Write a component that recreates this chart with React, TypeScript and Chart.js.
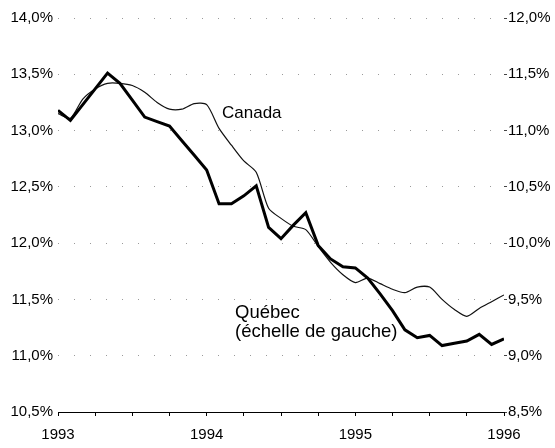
import React, { useEffect, useRef } from "react";
import { Chart, registerables } from "chart.js";

Chart.register(...registerables);

// Monthly data, Jan 1993 – Jan 1996
const QUEBEC = [
  13.18, 13.09, 13.23, 13.37, 13.51, 13.42, 13.27, 13.12, 13.08, 13.04, 12.91, 12.78,
  12.65, 12.35, 12.35, 12.42, 12.51, 12.14, 12.04, 12.16, 12.27, 11.98, 11.86, 11.79,
  11.78, 11.69, 11.55, 11.4, 11.23, 11.16, 11.18, 11.09, 11.11, 11.13, 11.19, 11.1,
  11.15,
];
const CANADA = [
  11.15, 11.11, 11.28, 11.37, 11.42, 11.42, 11.4, 11.34, 11.25, 11.19, 11.19, 11.24,
  11.23, 11.02, 10.87, 10.73, 10.63, 10.31, 10.22, 10.15, 10.12, 9.97, 9.83, 9.72,
  9.65, 9.69, 9.64, 9.59, 9.56, 9.61, 9.61, 9.5, 9.41, 9.35, 9.42, 9.48, 9.54,
];
const YEAR_LABELS = ["1993", "1994", "1995", "1996"];
const LEFT_RANGE = [10.5, 14.0];
const RIGHT_RANGE = [8.5, 12.0];
const TICK_STEP = 0.5;

// Text annotations (data coordinates: month index, left-axis value)
const NOTE_CANADA = { text: ["Canada"], x: 13.24, y: 13.115, size: 17 };
const NOTE_QUEBEC = { text: ["Québec", "(échelle de gauche)"], x: 14.29, y: 11.335, size: 18.5, lineGap: 0.165 };

const FONT = "'Liberation Sans', Arial, Helvetica, sans-serif";

const fmt = (v: number) => v.toFixed(1).replace(".", ",") + "%";

const notesPlugin = {
  id: "notes",
  afterDatasetsDraw(chart: any) {
    const { ctx, scales } = chart;
    const xs = scales.x;
    const ys = scales.y;
    ctx.save();
    ctx.fillStyle = "#000";
    ctx.textBaseline = "alphabetic";
    ctx.textAlign = "left";
    ctx.font = `${NOTE_CANADA.size}px ${FONT}`;
    ctx.fillText(NOTE_CANADA.text[0], xs.getPixelForValue(NOTE_CANADA.x), ys.getPixelForValue(NOTE_CANADA.y));
    ctx.font = `${NOTE_QUEBEC.size}px ${FONT}`;
    NOTE_QUEBEC.text.forEach((t, i) => {
      ctx.fillText(
        t,
        xs.getPixelForValue(NOTE_QUEBEC.x),
        ys.getPixelForValue(NOTE_QUEBEC.y - i * NOTE_QUEBEC.lineGap)
      );
    });
    ctx.restore();
  },
};

export default function App() {
  const ref = useRef<HTMLCanvasElement>(null);

  useEffect(() => {
    document.body.style.margin = "0";
    const canvas = ref.current;
    if (!canvas) return;
    const chart = new Chart(canvas, {
      type: "line",
      data: {
        datasets: [
          {
            label: "Québec",
            data: QUEBEC.map((v, i) => ({ x: i, y: v })),
            borderColor: "#000",
            borderWidth: 3,
            pointRadius: 0,
            tension: 0,
            yAxisID: "y",
          },
          {
            label: "Canada",
            data: CANADA.map((v, i) => ({ x: i, y: v })),
            borderColor: "#111",
            borderWidth: 1.2,
            pointRadius: 0,
            tension: 0.25,
            yAxisID: "y1",
          },
        ],
      },
      options: {
        responsive: false,
        animation: false,
        layout: { padding: { top: 18, right: 0, bottom: 0, left: 0 } },
        plugins: { legend: { display: false }, tooltip: { enabled: false } },
        scales: {
          x: {
            type: "linear",
            min: 0,
            max: (YEAR_LABELS.length - 1) * 12,
            afterFit: (s: any) => {
              s.height = 36;
            },
            afterBuildTicks: (s: any) => {
              const t = [];
              for (let v = 0; v <= (YEAR_LABELS.length - 1) * 12; v += 3) t.push({ value: v });
              s.ticks = t;
            },
            ticks: {
              autoSkip: false,
              maxRotation: 0,
              padding: 10,
              color: "#000",
              font: { family: FONT, size: 15 },
              callback: (v: any) => (v % 12 === 0 ? YEAR_LABELS[v / 12] : ""),
            },
            grid: {
              drawOnChartArea: false,
              drawTicks: true,
              tickLength: 4,
              color: "#000",
            },
            border: { display: true, color: "#000", width: 1 },
          },
          y: {
            position: "left",
            min: LEFT_RANGE[0],
            max: LEFT_RANGE[1],
            afterFit: (s: any) => {
              s.width = 58;
            },
            ticks: {
              stepSize: TICK_STEP,
              padding: 5,
              color: "#000",
              font: { family: FONT, size: 15 },
              callback: (v: any) => fmt(Number(v)),
            },
            grid: {
              drawOnChartArea: true,
              drawTicks: false,
              color: (c: any) => (c.index === 0 ? "rgba(0,0,0,0)" : "#9a9a9a"),
              lineWidth: 1,
            },
            border: { display: false, dash: [1, 15] },
          },
          y1: {
            position: "right",
            min: RIGHT_RANGE[0],
            max: RIGHT_RANGE[1],
            afterFit: (s: any) => {
              s.width = 51;
            },
            ticks: {
              stepSize: TICK_STEP,
              padding: 1,
              color: "#000",
              font: { family: FONT, size: 15 },
              callback: (v: any) => fmt(Number(v)),
            },
            grid: {
              drawOnChartArea: false,
              drawTicks: true,
              tickLength: 3,
              color: "#444",
            },
            border: { display: false },
          },
        },
      },
      plugins: [notesPlugin],
    });
    return () => chart.destroy();
  }, []);

  return (
    <div style={{ width: 555, height: 448 }}>
      <canvas ref={ref} width={555} height={448} />
    </div>
  );
}
